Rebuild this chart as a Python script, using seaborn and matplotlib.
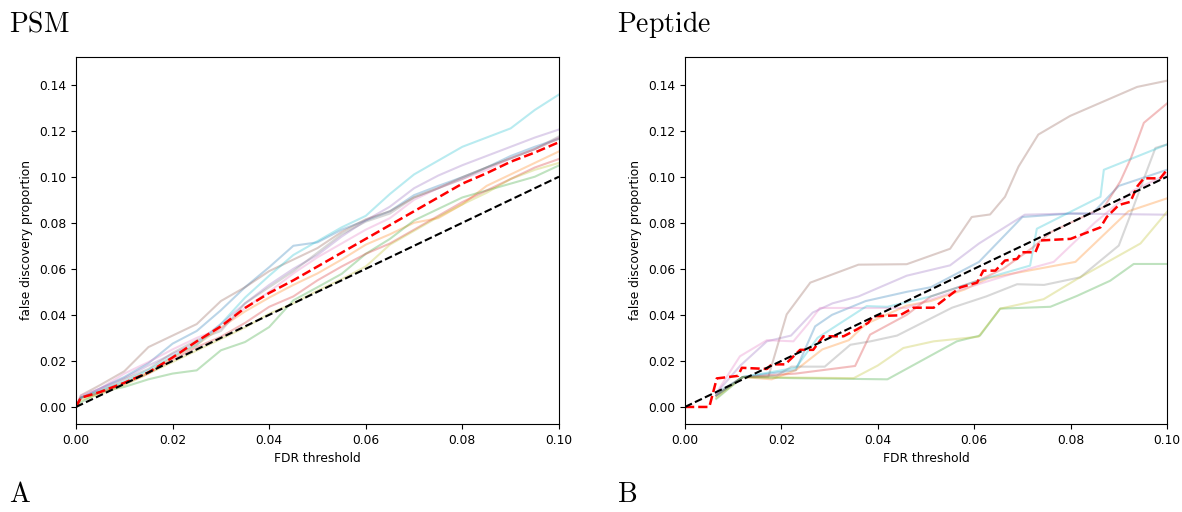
"""
Empirical FDP vs FDR threshold for PSM and peptide level (two panels)
"""

import numpy as np
import pandas as pd
import matplotlib
matplotlib.use('Agg')
import matplotlib.pyplot as plt
import seaborn as sns

# ---- PSM level: ten runs on a common threshold grid ----
psm_x = [0, 0.001, 0.005, 0.01, 0.015, 0.02, 0.025, 0.03, 0.035, 0.04, 0.045,
         0.05, 0.055, 0.06, 0.065, 0.07, 0.075, 0.08, 0.085, 0.09, 0.095, 0.1]
psm_blue = [0, 0.004, 0.008, 0.013, 0.019, 0.0275, 0.033, 0.042, 0.052, 0.0607, 0.07,
            0.0715, 0.077, 0.081, 0.085, 0.092, 0.096, 0.0998, 0.104, 0.109, 0.113, 0.1165]
psm_orange = [0, 0.004, 0.0065, 0.0105, 0.015, 0.0215, 0.027, 0.0345, 0.0415, 0.0475, 0.053,
              0.058, 0.064, 0.0705, 0.075, 0.08, 0.082, 0.088, 0.096, 0.101, 0.106, 0.111]
psm_green = [0, 0.002, 0.0065, 0.0087, 0.012, 0.0145, 0.0159, 0.0246, 0.0282, 0.0347, 0.0463,
             0.052, 0.0578, 0.0665, 0.073, 0.081, 0.086, 0.091, 0.094, 0.097, 0.1, 0.1049]
psm_red = [0, 0.004, 0.006, 0.01, 0.0145, 0.0205, 0.026, 0.0305, 0.0365, 0.0435, 0.048,
           0.055, 0.061, 0.0665, 0.071, 0.077, 0.083, 0.089, 0.094, 0.099, 0.104, 0.1077]
psm_purple = [0, 0.004, 0.008, 0.0125, 0.018, 0.023, 0.028, 0.036, 0.045, 0.053, 0.06,
              0.066, 0.074, 0.081, 0.087, 0.095, 0.1005, 0.105, 0.109, 0.113, 0.117, 0.1205]
psm_brown = [0, 0.005, 0.0095, 0.0155, 0.026, 0.031, 0.036, 0.046, 0.052, 0.059, 0.064,
             0.069, 0.076, 0.0815, 0.085, 0.091, 0.095, 0.0998, 0.104, 0.108, 0.112, 0.1165]
psm_pink = [0, 0.005, 0.008, 0.0145, 0.0195, 0.025, 0.03, 0.034, 0.043, 0.05, 0.058,
            0.065, 0.071, 0.077, 0.082, 0.09, 0.095, 0.099, 0.103, 0.108, 0.112, 0.117]
psm_gray = [0, 0.004, 0.007, 0.012, 0.0165, 0.0235, 0.029, 0.033, 0.045, 0.052, 0.059,
            0.067, 0.075, 0.0805, 0.084, 0.091, 0.095, 0.099, 0.104, 0.108, 0.112, 0.1175]
psm_olive = [0, 0.003, 0.0055, 0.0095, 0.0145, 0.0195, 0.0245, 0.0295, 0.0345, 0.0405, 0.045,
             0.0505, 0.0555, 0.061, 0.0705, 0.0765, 0.0825, 0.088, 0.093, 0.099, 0.103, 0.106]
psm_cyan = [0, 0.004, 0.007, 0.011, 0.016, 0.022, 0.027, 0.036, 0.0475, 0.057, 0.066,
            0.072, 0.078, 0.083, 0.0925, 0.101, 0.107, 0.113, 0.117, 0.121, 0.129, 0.1357]
psm_mean = [0, 0.004, 0.0065, 0.0105, 0.015, 0.0215, 0.0285, 0.035, 0.043, 0.0495, 0.055,
            0.061, 0.067, 0.073, 0.079, 0.085, 0.091, 0.097, 0.1015, 0.1065, 0.1105, 0.115]

# ---- Peptide level: ten runs, each with its own breakpoints ----
pep_blue_x = [0.0065, 0.012, 0.023, 0.027, 0.0305, 0.0375, 0.046, 0.051, 0.061, 0.07, 0.08, 0.0845, 0.09, 0.1]
pep_blue_y = [0.006, 0.013, 0.016, 0.035, 0.040, 0.046, 0.050, 0.052, 0.063, 0.0825, 0.084, 0.084, 0.096, 0.103]
pep_orange_x = [0.0065, 0.012, 0.018, 0.023, 0.0285, 0.034, 0.0375, 0.046, 0.051, 0.058, 0.063, 0.081, 0.087, 0.092, 0.1]
pep_orange_y = [0.005, 0.013, 0.012, 0.016, 0.025, 0.029, 0.036, 0.044, 0.046, 0.051, 0.056, 0.063, 0.075, 0.085, 0.0906]
pep_green_x = [0.0065, 0.012, 0.0225, 0.042, 0.0564, 0.0612, 0.0654, 0.0758, 0.0813, 0.0882, 0.0931, 0.1]
pep_green_y = [0.0035, 0.013, 0.0125, 0.012, 0.0285, 0.031, 0.0427, 0.0435, 0.0482, 0.0548, 0.0621, 0.0621]
pep_red_x = [0.0065, 0.012, 0.023, 0.0353, 0.0384, 0.046, 0.051, 0.061, 0.066, 0.072, 0.076, 0.08,
             0.087, 0.0903, 0.0925, 0.0952, 0.1]
pep_red_y = [0.005, 0.013, 0.0145, 0.0178, 0.0314, 0.04, 0.048, 0.055, 0.06, 0.069, 0.076, 0.08,
             0.087, 0.0979, 0.108, 0.1234, 0.1318]
pep_purple_x = [0.0065, 0.0115, 0.017, 0.022, 0.0265, 0.0306, 0.036, 0.046, 0.055, 0.061, 0.0705, 0.08, 0.1]
pep_purple_y = [0.006, 0.018, 0.0285, 0.031, 0.041, 0.045, 0.048, 0.057, 0.0615, 0.071, 0.0835, 0.084, 0.0835]
pep_brown_x = [0.0065, 0.012, 0.0173, 0.0211, 0.026, 0.036, 0.046, 0.055, 0.0595, 0.0633, 0.0664,
               0.0692, 0.0733, 0.0799, 0.0938, 0.1]
pep_brown_y = [0.005, 0.013, 0.0131, 0.0402, 0.054, 0.0618, 0.062, 0.0687, 0.0825, 0.0836, 0.0913,
               0.1044, 0.1183, 0.1264, 0.139, 0.1417]
pep_pink_x = [0.0065, 0.0114, 0.017, 0.0225, 0.0255, 0.028, 0.046, 0.055, 0.065, 0.073, 0.0765, 0.085, 0.093, 0.1]
pep_pink_y = [0.006, 0.022, 0.029, 0.0285, 0.036, 0.043, 0.043, 0.0495, 0.056, 0.061, 0.063, 0.080, 0.094, 0.101]
pep_gray_x = [0.0065, 0.012, 0.019, 0.0221, 0.029, 0.0343, 0.0385, 0.044, 0.0554, 0.0625, 0.0689,
              0.0745, 0.082, 0.09, 0.0924, 0.0951, 0.0976, 0.1]
pep_gray_y = [0.005, 0.013, 0.0135, 0.0175, 0.0175, 0.027, 0.0285, 0.031, 0.0431, 0.048, 0.0533,
              0.053, 0.0563, 0.0701, 0.0833, 0.0986, 0.1125, 0.114]
pep_olive_x = [0.0065, 0.012, 0.035, 0.04, 0.0453, 0.0516, 0.0609, 0.0654, 0.0744, 0.0813, 0.0945, 0.1]
pep_olive_y = [0.004, 0.013, 0.0125, 0.018, 0.0256, 0.0285, 0.0305, 0.0427, 0.0468, 0.0555, 0.071, 0.0847]
pep_cyan_x = [0.0065, 0.012, 0.023, 0.0275, 0.0377, 0.042, 0.051, 0.061, 0.0716, 0.073, 0.0862, 0.0869, 0.1]
pep_cyan_y = [0.005, 0.013, 0.017, 0.03, 0.0438, 0.0435, 0.048, 0.055, 0.0614, 0.0774, 0.0913, 0.103, 0.114]
pep_mean_x = [0, 0.00505, 0.0066, 0.011, 0.0118, 0.017, 0.018, 0.0208, 0.0239, 0.0266, 0.0287, 0.0329,
              0.0356, 0.038, 0.039, 0.0446, 0.0474, 0.0516, 0.0557, 0.0571, 0.0606, 0.0619, 0.0644,
              0.0664, 0.0689, 0.0699, 0.0727, 0.0737, 0.08, 0.0837, 0.0862, 0.0875, 0.09, 0.0924,
              0.0938, 0.0952, 0.0986, 0.1]
pep_mean_y = [0, 0, 0.0124, 0.0135, 0.017, 0.0165, 0.0185, 0.0185, 0.0248, 0.0248, 0.0307, 0.0307,
              0.0336, 0.0365, 0.0394, 0.0398, 0.0431, 0.0431, 0.0497, 0.0519, 0.054, 0.0592, 0.0592,
              0.0636, 0.0643, 0.0672, 0.0672, 0.0723, 0.073, 0.076, 0.078, 0.0825, 0.0877, 0.0891,
              0.0957, 0.0993, 0.0993, 0.103]

diag = [0, 0.1]
run_names = ['blue', 'orange', 'green', 'red', 'purple', 'brown', 'pink', 'gray', 'olive', 'cyan']


def long_frame(pairs):
    """Stack (x, y) lists of each run into one long table for seaborn"""
    frames = []
    for name, (xs, ys) in zip(run_names, pairs):
        frames.append(pd.DataFrame({'x': xs, 'y': ys, 'run': name}))
    return pd.concat(frames, ignore_index=True)


psm_df = long_frame([(psm_x, s) for s in [psm_blue, psm_orange, psm_green, psm_red, psm_purple,
                                            psm_brown, psm_pink, psm_gray, psm_olive, psm_cyan]])
pep_df = long_frame([(pep_blue_x, pep_blue_y), (pep_orange_x, pep_orange_y), (pep_green_x, pep_green_y),
                     (pep_red_x, pep_red_y), (pep_purple_x, pep_purple_y), (pep_brown_x, pep_brown_y),
                     (pep_pink_x, pep_pink_y), (pep_gray_x, pep_gray_y), (pep_olive_x, pep_olive_y),
                     (pep_cyan_x, pep_cyan_y)])

plt.rcParams['mathtext.fontset'] = 'cm'
fs = 8.8

fig = plt.figure(figsize=(11.82, 5.12), dpi=100)
ax_psm = fig.add_axes([0.0643, 0.1719, 0.4086, 0.7168])
ax_pep = fig.add_axes([0.5795, 0.1719, 0.4078, 0.7168])

for ax, df, mx, my in [(ax_psm, psm_df, psm_x, psm_mean), (ax_pep, pep_df, pep_mean_x, pep_mean_y)]:
    sns.lineplot(data=df, x='x', y='y', hue='run', hue_order=run_names, palette='tab10',
                 alpha=0.3, linewidth=1.5, estimator=None, sort=False, legend=False, ax=ax)
    sns.lineplot(x=mx, y=my, color='red', linestyle='--', linewidth=1.8,
                 estimator=None, sort=False, ax=ax)
    sns.lineplot(x=diag, y=diag, color='black', linestyle='--', linewidth=1.5,
                 estimator=None, sort=False, ax=ax)
    ax.set_xlim(0, 0.1)
    ax.set_ylim(-0.0074, 0.152)
    ax.set_xticks([0, 0.02, 0.04, 0.06, 0.08, 0.1])
    ax.set_yticks([0, 0.02, 0.04, 0.06, 0.08, 0.1, 0.12, 0.14])
    ax.set_xticklabels(['0.00', '0.02', '0.04', '0.06', '0.08', '0.10'])
    ax.set_yticklabels(['0.00', '0.02', '0.04', '0.06', '0.08', '0.10', '0.12', '0.14'])
    ax.tick_params(labelsize=fs)
    ax.set_xlabel('FDR threshold', fontsize=fs)
    ax.set_ylabel('false discovery proportion', fontsize=fs)

# panel titles and letters
fig.text(0.008, 1 - 32 / 512, r'$\mathrm{PSM}$', fontsize=20, va='baseline')
fig.text(0.522, 1 - 32 / 512, r'$\mathrm{Peptide}$', fontsize=20, va='baseline')
fig.text(0.008, 4 / 512, r'$\mathrm{A}$', fontsize=20, va='bottom')
fig.text(0.522, 4 / 512, r'$\mathrm{B}$', fontsize=20, va='bottom')

plt.savefig('out.png', dpi=100)
plt.close()
